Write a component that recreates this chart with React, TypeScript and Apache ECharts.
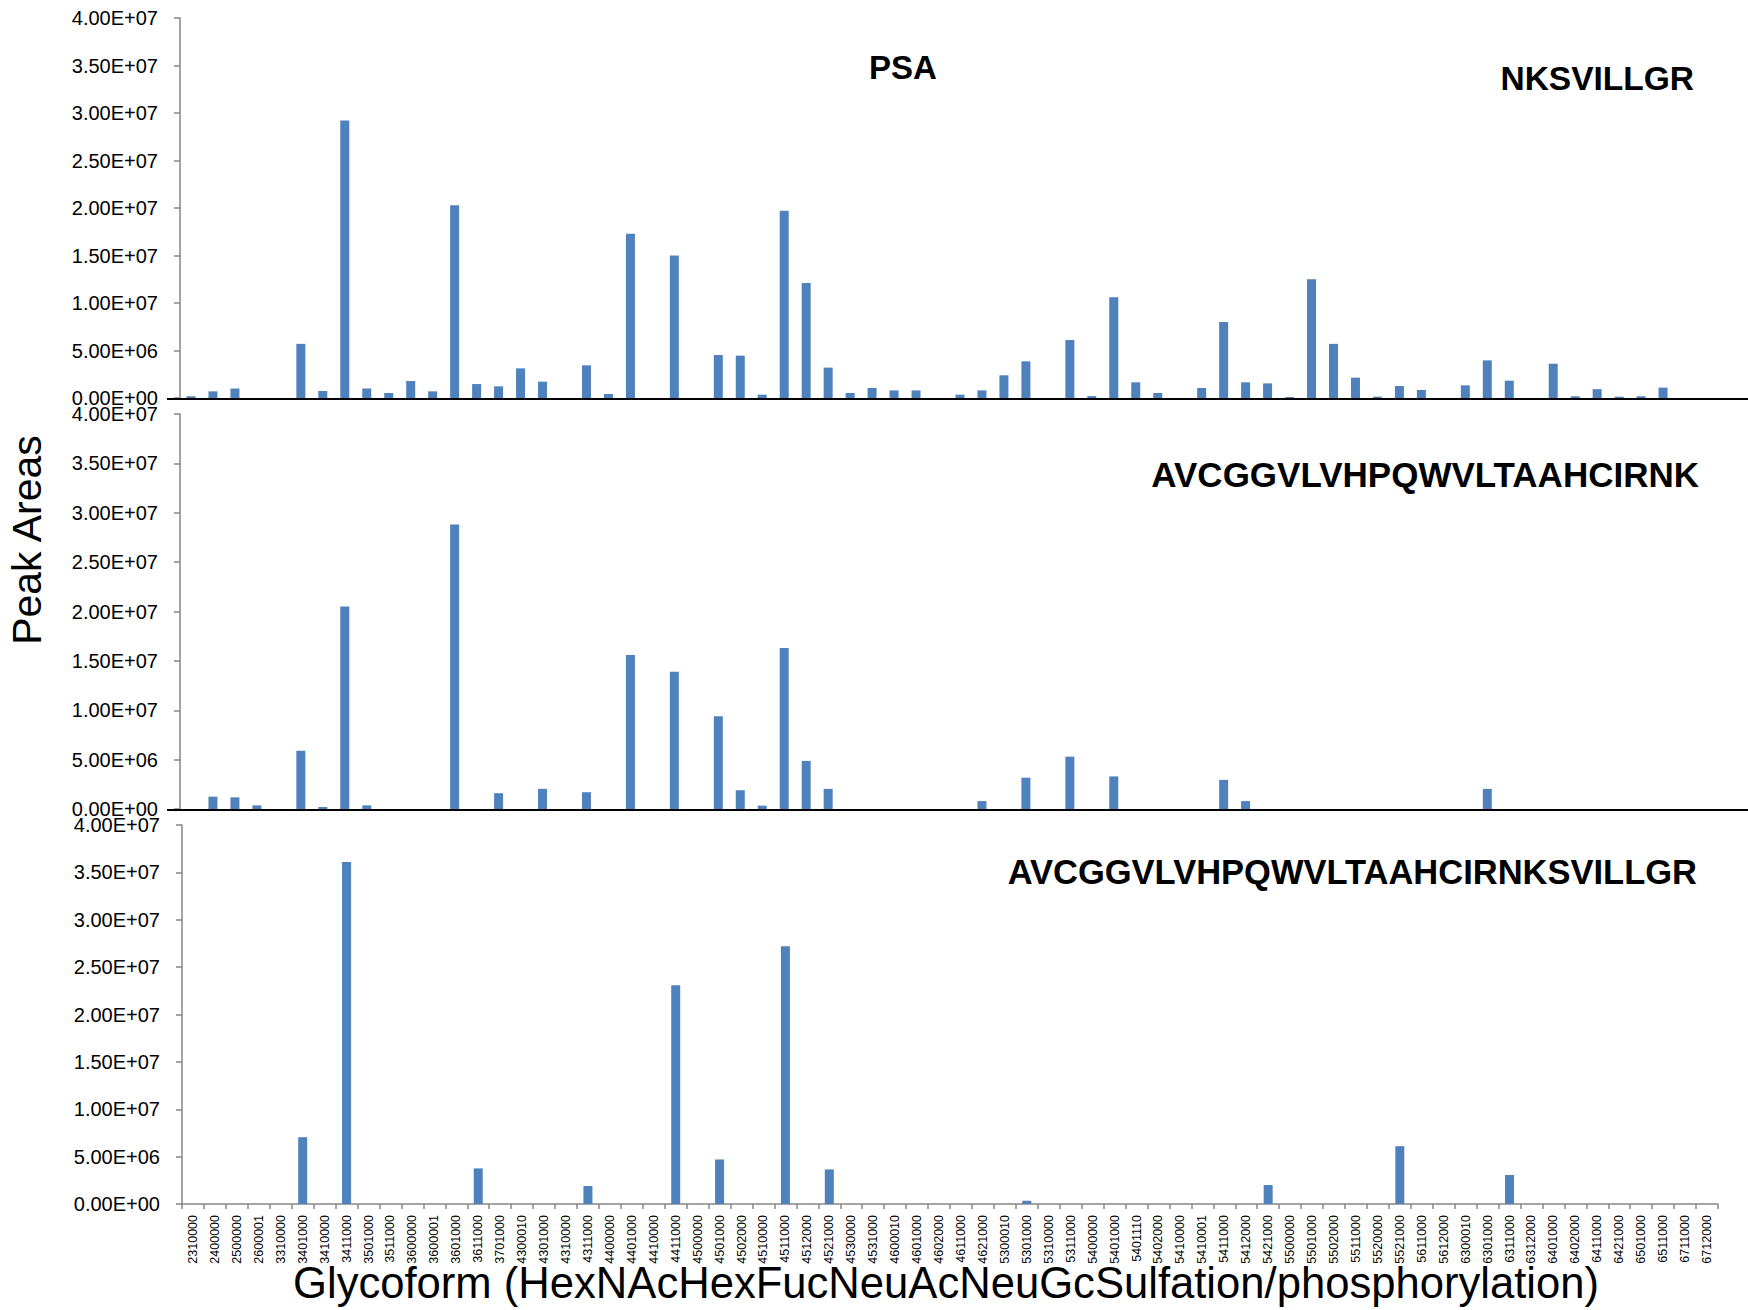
import React, { useEffect, useRef } from "react";
import * as echarts from "echarts";

const categories = [
  "2310000", "2400000", "2500000", "2600001", "3310000", "3401000", "3410000", "3411000", "3501000", "3511000",
  "3600000", "3600001", "3601000", "3611000", "3701000", "4300010", "4301000", "4310000", "4311000", "4400000",
  "4401000", "4410000", "4411000", "4500000", "4501000", "4502000", "4510000", "4511000", "4512000", "4521000",
  "4530000", "4531000", "4600010", "4601000", "4602000", "4611000", "4621000", "5300010", "5301000", "5310000",
  "5311000", "5400000", "5401000", "5401110", "5402000", "5410000", "5410001", "5411000", "5412000", "5421000",
  "5500000", "5501000", "5502000", "5511000", "5520000", "5521000", "5611000", "5612000", "6300010", "6301000",
  "6311000", "6312000", "6401000", "6402000", "6411000", "6421000", "6501000", "6511000", "6711000", "6712000",
];

// NKSVILLGR
const nksvillgr = [
  1.8e5, 7.0e5, 1.0e6, 0, 0, 5.7e6, 7.4e5, 2.92e7, 1.0e6, 5.3e5,
  1.79e6, 7.0e5, 2.03e7, 1.47e6, 1.23e6, 3.12e6, 1.72e6, 0, 3.44e6, 4.2e5,
  1.73e7, 0, 1.5e7, 0, 4.53e6, 4.46e6, 3.5e5, 1.97e7, 1.21e7, 3.2e6,
  5.3e5, 1.05e6, 8.0e5, 8.0e5, 0, 3.5e5, 8.0e5, 2.39e6, 3.86e6, 0,
  6.1e6, 2.0e5, 1.06e7, 1.65e6, 5.3e5, 0, 1.05e6, 8.0e6, 1.65e6, 1.54e6,
  1.0e5, 1.25e7, 5.7e6, 2.14e6, 1.4e5, 1.26e6, 8.4e5, 0, 1.33e6, 3.96e6,
  1.82e6, 0, 3.61e6, 1.8e5, 9.3e5, 1.4e5, 1.8e5, 1.09e6, 0, 0,
];

// AVCGGVLVHPQWVLTAAHCIRNK
const avcRnk = [
  0, 1.25e6, 1.18e6, 3.7e5, 0, 5.9e6, 2.0e5, 2.05e7, 3.7e5, 0,
  0, 0, 2.88e7, 0, 1.6e6, 0, 2.04e6, 0, 1.7e6, 0,
  1.56e7, 0, 1.39e7, 0, 9.4e6, 1.9e6, 3.4e5, 1.63e7, 4.87e6, 2.04e6,
  0, 0, 0, 0, 0, 0, 8.0e5, 0, 3.17e6, 0,
  5.3e6, 0, 3.3e6, 0, 0, 0, 0, 2.95e6, 8.0e5, 0,
  0, 0, 0, 0, 0, 0, 0, 0, 0, 2.04e6,
  0, 0, 0, 0, 0, 0, 0, 0, 0, 0,
];

// AVCGGVLVHPQWVLTAAHCIRNKSVILLGR
const avcRnksvillgr = [
  0, 0, 0, 0, 0, 7.05e6, 0, 3.61e7, 0, 0,
  0, 0, 0, 3.76e6, 0, 0, 0, 0, 1.9e6, 0,
  0, 0, 2.31e7, 0, 4.7e6, 0, 0, 2.72e7, 0, 3.65e6,
  0, 0, 0, 0, 0, 0, 0, 0, 3.5e5, 0,
  0, 0, 0, 0, 0, 0, 0, 0, 0, 2.0e6,
  0, 0, 0, 0, 0, 6.1e6, 0, 0, 0, 0,
  3.06e6, 0, 0, 0, 0, 0, 0, 0, 0, 0,
];

const panelTitles = ["NKSVILLGR", "AVCGGVLVHPQWVLTAAHCIRNK", "AVCGGVLVHPQWVLTAAHCIRNKSVILLGR"];
const yMin = 0;
const yMax = 4e7;
const yInterval = 5e6;

const FONT = "'Liberation Sans', Arial, sans-serif";
const BAR = "#4F81BD";
const GREY = "#868686";

function sci(v: number): string {
  if (v === 0) return "0.00E+00";
  const e = Math.floor(Math.log10(Math.abs(v)) + 1e-9);
  const m = v / Math.pow(10, e);
  return m.toFixed(2) + "E" + (e >= 0 ? "+" : "-") + String(Math.abs(e)).padStart(2, "0");
}

export default function App() {
  const ref = useRef<HTMLDivElement>(null);
  useEffect(() => {
    if (!ref.current) return;
    const chart = echarts.init(ref.current, null, { renderer: "svg" });
    const grids = [
      { left: 180, top: 18, width: 1538, height: 380 },
      { left: 180, top: 414, width: 1538, height: 395 },
      { left: 182, top: 825, width: 1536, height: 379 },
    ];
    const seriesData = [nksvillgr, avcRnk, avcRnksvillgr];
    const yAxes = grids.map((_, i) => ({
      type: "value",
      gridIndex: i,
      min: yMin,
      max: yMax,
      interval: yInterval,
      axisLine: { show: true, lineStyle: { color: GREY, width: 1.5 } },
      axisTick: { show: true, length: 6, lineStyle: { color: GREY, width: 1.5 } },
      splitLine: { show: false },
      axisLabel: {
        formatter: (v: number) => sci(v),
        color: "#000",
        fontFamily: FONT,
        fontSize: 20,
        margin: 22,
      },
    }));
    const xAxes = grids.map((_, i) => {
      const isBottom = i === 2;
      return {
        type: "category",
        gridIndex: i,
        data: categories,
        boundaryGap: true,
        axisLine: { show: isBottom, lineStyle: { color: GREY, width: 1.5 } },
        axisTick: { show: isBottom, length: 5, interval: 0, lineStyle: { color: GREY, width: 1.5 } },
        axisLabel: {
          show: isBottom,
          interval: 0,
          rotate: 90,
          color: "#000",
          fontFamily: FONT,
          fontSize: 12.5,
          margin: 11,
        },
        splitLine: { show: false },
      };
    });
    const series = seriesData.map((d, i) => ({
      type: "bar",
      name: panelTitles[i],
      xAxisIndex: i,
      yAxisIndex: i,
      data: d,
      barWidth: 9,
      itemStyle: { color: BAR },
    }));
    chart.setOption({
      animation: false,
      backgroundColor: "#ffffff",
      grid: grids,
      xAxis: xAxes,
      yAxis: yAxes,
      series,
      graphic: [
        { type: "line", z: 100, shape: { x1: 167, y1: 399, x2: 1748, y2: 399 }, style: { stroke: "#000", lineWidth: 2 } },
        { type: "line", z: 100, shape: { x1: 167, y1: 810, x2: 1748, y2: 810 }, style: { stroke: "#000", lineWidth: 2 } },
        { type: "text", z: 100, x: 903, y: 67, style: { text: "PSA", font: `bold 33px ${FONT}`, fill: "#000", textAlign: "center", textVerticalAlign: "middle" } },
        { type: "text", z: 100, x: 1694, y: 78, style: { text: panelTitles[0], font: `bold 33.5px ${FONT}`, fill: "#000", textAlign: "right", textVerticalAlign: "middle" } },
        { type: "text", z: 100, x: 1699, y: 474, style: { text: panelTitles[1], font: `bold 35px ${FONT}`, fill: "#000", textAlign: "right", textVerticalAlign: "middle" } },
        { type: "text", z: 100, x: 1697, y: 872, style: { text: panelTitles[2], font: `bold 34.5px ${FONT}`, fill: "#000", textAlign: "right", textVerticalAlign: "middle" } },
        { type: "text", z: 100, x: 27, y: 540, rotation: Math.PI / 2, style: { text: "Peak Areas", font: `41px ${FONT}`, fill: "#000", textAlign: "center", textVerticalAlign: "middle" } },
        { type: "text", z: 100, x: 946, y: 1283, style: { text: "Glycoform (HexNAcHexFucNeuAcNeuGcSulfation/phosphorylation)", font: `43.6px ${FONT}`, fill: "#000", textAlign: "center", textVerticalAlign: "middle" } },
      ],
    });
    return () => chart.dispose();
  }, []);
  return <div ref={ref} style={{ position: "absolute", left: 0, top: 0, width: 1748, height: 1310 }} />;
}
